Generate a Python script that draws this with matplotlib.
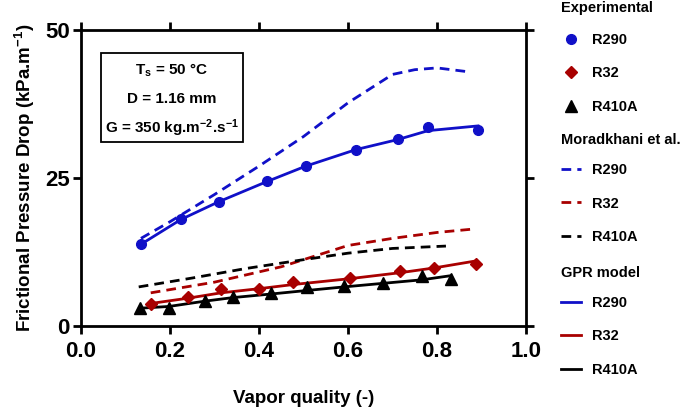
import matplotlib
matplotlib.use('Agg')
import matplotlib.pyplot as plt
from matplotlib.lines import Line2D
from matplotlib.patches import Rectangle

plt.rcParams['font.family'] = ['Liberation Sans', 'DejaVu Sans']
plt.rcParams['font.weight'] = 'bold'
plt.rcParams['mathtext.fontset'] = 'custom'
plt.rcParams['mathtext.rm'] = 'Liberation Sans:bold'
plt.rcParams['mathtext.bf'] = 'Liberation Sans:bold'
plt.rcParams['mathtext.it'] = 'Liberation Sans:bold'
plt.rcParams['mathtext.default'] = 'bf'

BLUE = '#1010C8'
RED = '#A80000'
BLACK = '#000000'

# experimental data
r290_x = [0.135, 0.225, 0.31, 0.418, 0.505, 0.618, 0.712, 0.78, 0.892]
r290_y = [13.85, 18.1, 20.9, 24.5, 27.0, 29.8, 31.6, 33.6, 33.1]
r32_x = [0.157, 0.241, 0.315, 0.40, 0.477, 0.605, 0.717, 0.793, 0.888]
r32_y = [3.7, 4.9, 6.2, 6.2, 7.4, 8.1, 9.3, 9.8, 10.5]
r410a_x = [0.133, 0.198, 0.279, 0.342, 0.427, 0.508, 0.591, 0.678, 0.766, 0.831]
r410a_y = [3.0, 3.0, 4.2, 4.9, 5.6, 6.6, 6.8, 7.3, 8.4, 7.9]

# GPR model
gpr_r290_y = [13.8, 18.0, 21.0, 24.4, 27.0, 29.8, 31.5, 33.0, 33.8]
gpr_r32_y = [3.8, 4.7, 5.6, 6.3, 7.0, 8.0, 9.0, 9.8, 11.0]
gpr_r410a_y = [3.0, 3.3, 4.2, 4.8, 5.4, 6.0, 6.6, 7.2, 7.8, 8.5]

# Moradkhani et al. correlation
mor_r290_x = [0.135, 0.2, 0.3, 0.4, 0.5, 0.6, 0.7, 0.75, 0.8, 0.875]
mor_r290_y = [14.8, 17.6, 22.2, 27.0, 32.0, 37.7, 42.5, 43.3, 43.6, 42.9]
mor_r32_x = [0.157, 0.3, 0.45, 0.55, 0.6, 0.7, 0.8, 0.885]
mor_r32_y = [5.6, 7.4, 10.0, 12.4, 13.6, 14.8, 15.8, 16.4]
mor_r410a_x = [0.13, 0.25, 0.37, 0.5, 0.6, 0.7, 0.82]
mor_r410a_y = [6.6, 8.1, 9.7, 11.2, 12.3, 13.1, 13.5]

fig = plt.figure(figsize=(6.85, 4.13), dpi=100)
ax = fig.add_axes([0.118, 0.2107, 0.650, 0.7166])

lw = 2.0
dash = (3.5, 2.2)
ax.plot(mor_r290_x, mor_r290_y, color=BLUE, lw=lw, ls=(0, dash))
ax.plot(mor_r32_x, mor_r32_y, color=RED, lw=lw, ls=(0, dash))
ax.plot(mor_r410a_x, mor_r410a_y, color=BLACK, lw=lw, ls=(0, dash))

ax.plot(r290_x, gpr_r290_y, color=BLUE, lw=lw)
ax.plot(r32_x, gpr_r32_y, color=RED, lw=lw)
ax.plot(r410a_x, gpr_r410a_y, color=BLACK, lw=lw)

ax.plot(r290_x, r290_y, 'o', color=BLUE, ms=7, ls='none')
ax.plot(r32_x, r32_y, 'D', color=RED, ms=6, ls='none')
ax.plot(r410a_x, r410a_y, '^', color=BLACK, ms=8, ls='none')

ax.set_xlim(0, 1.0)
ax.set_ylim(0, 50)
ax.set_xticks([0.0, 0.2, 0.4, 0.6, 0.8, 1.0])
ax.set_xticklabels(['0.0', '0.2', '0.4', '0.6', '0.8', '1.0'])
ax.set_yticks([0, 25, 50])
for s in ax.spines.values():
    s.set_linewidth(2.0)
ax.tick_params(axis='both', width=2.0, length=6, labelsize=16)
ax.tick_params(axis='x', top=True, pad=5)
ax.tick_params(axis='y', right=True, pad=2)

ax.set_xlabel('Vapor quality (-)', fontsize=13.5, fontweight='bold', labelpad=20)
ax.set_ylabel('Frictional Pressure Drop (kPa.m$^{-1}$)', fontsize=13.5,
              fontweight='bold', labelpad=6)

# info box
ax.add_patch(Rectangle((0.045, 0.622), 0.319, 0.30, transform=ax.transAxes,
                       fill=False, ec='black', lw=1.3))
ax.text(0.2045, 0.865, 'T$_\\mathbf{s}$ = 50 °C', transform=ax.transAxes,
        ha='center', va='center', fontsize=11)
ax.text(0.2045, 0.766, 'D = 1.16 mm', transform=ax.transAxes,
        ha='center', va='center', fontsize=11)
ax.text(0.2045, 0.668, 'G = 350 kg.m$^{-2}$.s$^{-1}$', transform=ax.transAxes,
        ha='center', va='center', fontsize=11)

# legends (titles placed as text, entries as legends)
exp_h = [Line2D([], [], marker='o', color=BLUE, ls='none', ms=7),
         Line2D([], [], marker='D', color=RED, ls='none', ms=6),
         Line2D([], [], marker='^', color=BLACK, ls='none', ms=8)]
mor_h = [Line2D([], [], color=c, lw=lw, ls=(0, dash)) for c in (BLUE, RED, BLACK)]
gpr_h = [Line2D([], [], color=c, lw=lw) for c in (BLUE, RED, BLACK)]
names = ['R290', 'R32', 'R410A']

groups = [(exp_h, 'Experimental', 0.981, 0.949),
          (mor_h, 'Moradkhani et al.', 0.661, 0.634),
          (gpr_h, 'GPR model', 0.339, 0.312)]
for handles, title, ty, top in groups:
    fig.text(0.819, ty, title, fontsize=10.5, fontweight='bold', va='center', ha='left')
    fig.legend(handles, names, loc='upper left', bbox_to_anchor=(0.802, top),
               frameon=False, fontsize=10.5, labelspacing=1.35, handlelength=1.4,
               handletextpad=0.75, borderpad=0.3)

fig.savefig('out.png', dpi=100)
